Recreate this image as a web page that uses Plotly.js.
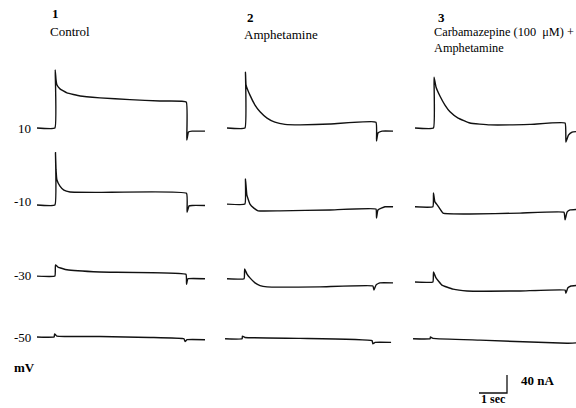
<!DOCTYPE html>
<html><head><meta charset="utf-8">
<script src="https://cdn.plot.ly/plotly-3.0.1.min.js"></script>
<style>html,body{margin:0;padding:0;background:#fff}</style>
</head><body><div id="chart" style="width:576px;height:408px"></div>
<script>
// ---- Data: time (s) from start of each sweep, current (nA) relative to row reference ----
const columnNumbers = ["1", "2", "3"];
const columnLabels = ["Control", "Amphetamine", "Carbamazepine (100  \u03bcM) +<br>Amphetamine"];
const holdingLabels = ["10", "-10", "-30", "-50"];
const unitLabel = "mV";
const scaleTime = [0, 1, 1];      // s
const scaleCurrent = [0, 0, 40];  // nA
const scaleLabels = ["40 nA", "1 sec"];

// Row 1: step from 10 mV
const timeR1C1 = [0, 0.64, 0.65, 0.68, 0.71, 0.82, 1.07, 1.54, 2.25, 3.32, 4.39, 5.33, 5.35, 5.41, 5.54, 6.0];
const currentR1C1 = [0, 0, 129, 107, 96, 87, 78, 71, 67, 63, 60, 58, -27, -9, -7, -7];
const timeR1C2 = [0, 0.64, 0.66, 0.68, 0.82, 1.0, 1.18, 1.43, 1.71, 2.07, 2.61, 3.68, 5.32, 5.34, 5.39, 5.54, 5.93];
const currentR1C2 = [0, 0, 124, 96, 73, 51, 36, 22, 13, 8, 7, 9, 13, -29, -11, -7, -7];
const timeR1C3 = [0, 0.66, 0.68, 0.75, 0.89, 1.07, 1.25, 1.54, 1.96, 2.68, 4.11, 5.36, 5.39, 5.48, 5.61, 5.75];
const currentR1C3 = [0, 0, 113, 91, 71, 51, 36, 22, 11, 7, 8, 11, -31, -16, -9, -8];

// Row 2: step from -10 mV
const timeR2C1 = [0, 0.64, 0.66, 0.68, 0.71, 0.82, 0.96, 1.18, 2.25, 5.34, 5.36, 5.43, 5.54, 6.0];
const currentR2C1 = [0, 0, 116, 78, 56, 42, 33, 29, 28, 26, -16, -2, -1, -1];
const timeR2C2 = [0, 0.64, 0.66, 0.71, 0.82, 0.96, 1.11, 1.89, 3.68, 5.32, 5.34, 5.39, 5.64, 5.93];
const currentR2C2 = [2, 2, 58, 22, 2, -7, -13, -13, -11, -9, -29, -11, -4, -4];
const timeR2C3 = [0, 0.64, 0.66, 0.71, 0.82, 1.0, 1.96, 3.75, 5.32, 5.36, 5.43, 5.54, 5.75];
const currentR2C3 = [-4, -4, 27, 7, -2, -18, -20, -18, -16, -33, -16, -11, -10];

// Row 3: step from -30 mV
const timeR3C1 = [0, 0.64, 0.66, 0.75, 1.07, 2.25, 5.32, 5.34, 5.39, 6.0];
const currentR3C1 = [2, 2, 27, 22, 16, 11, 6, -16, -4, -4];
const timeR3C2 = [0, 0.61, 0.63, 0.71, 0.82, 1.0, 1.18, 1.43, 3.32, 5.21, 5.25, 5.32, 5.46, 5.93];
const currentR3C2 = [-4, -4, 18, 7, -2, -13, -19, -22, -22, -20, -29, -18, -13, -13];
const timeR3C3 = [0, 0.64, 0.66, 0.75, 0.96, 1.36, 1.86, 3.75, 5.36, 5.39, 5.46, 5.57, 5.75];
const currentR3C3 = [-11, -11, 11, -2, -18, -27, -31, -31, -29, -36, -24, -20, -19];

// Row 4: step from -50 mV
const timeR4C1 = [0, 0.61, 0.63, 0.71, 2.25, 4.04, 5.25, 5.29, 5.36, 6.0];
const currentR4C1 = [0, 0, 7, 2, 1, -1, -4, -10, -6, -6];
const timeR4C2 = [-0.07, 0.54, 0.55, 0.64, 2.61, 5.18, 5.21, 5.29, 5.86];
const currentR4C2 = [-4, -4, 2, -1, -3, -8, -15, -12, -12];
const timeR4C3 = [-0.07, 0.54, 0.55, 0.64, 2.32, 5.43, 5.75];
const currentR4C3 = [-4, -4, 0, -3, -7, -14, -13];

const sweeps = [
  [[timeR1C1, currentR1C1], [timeR1C2, currentR1C2], [timeR1C3, currentR1C3]],
  [[timeR2C1, currentR2C1], [timeR2C2, currentR2C2], [timeR2C3, currentR2C3]],
  [[timeR3C1, currentR3C1], [timeR3C2, currentR3C2], [timeR3C3, currentR3C3]],
  [[timeR4C1, currentR4C1], [timeR4C2, currentR4C2], [timeR4C3, currentR4C3]]
];

// ---- Layout geometry (pixels) ----
const W = 576, H = 408;
const PX_PER_S = 28;        // 1 sec scale bar
const PX_PER_NA = 18 / 40;  // 40 nA scale bar
const colStart = [37, 227, 415];
const colEnd = [6.3, 6.3, 5.75];
const rowRef = [128, 205, 277, 337];
const T0 = -0.1, IMAX = 135, IMIN = -45;

const layout = {
  width: W, height: H,
  margin: {l: 0, r: 0, t: 0, b: 0},
  paper_bgcolor: '#ffffff',
  plot_bgcolor: 'rgba(0,0,0,0)',
  showlegend: false,
  font: {family: 'Liberation Serif, Times New Roman, serif', color: '#000', size: 13},
  annotations: []
};
function axBase() {
  return {visible: false, showgrid: false, zeroline: false, fixedrange: true};
}
const xName = i => 'xaxis' + (i ? i + 1 : '');
const yName = i => 'yaxis' + (i ? i + 1 : '');
const xRef = i => 'x' + (i ? i + 1 : '');
const yRef = i => 'y' + (i ? i + 1 : '');

for (let c = 0; c < 3; c++) {
  const left = colStart[c] + T0 * PX_PER_S;
  const right = Math.min(W, colStart[c] + colEnd[c] * PX_PER_S);
  layout[xName(c)] = Object.assign(axBase(), {
    domain: [left / W, right / W],
    range: [T0, (right - colStart[c]) / PX_PER_S],
    anchor: yRef(0)
  });
}
for (let r = 0; r < 4; r++) {
  const top = rowRef[r] - IMAX * PX_PER_NA;
  const bot = rowRef[r] - IMIN * PX_PER_NA;
  layout[yName(r)] = Object.assign(axBase(), {
    domain: [1 - bot / H, 1 - top / H],
    range: [IMIN, IMAX],
    anchor: xRef(0)
  });
}
// scale bar axes
const sbOrigin = [479, 393];
layout[xName(3)] = Object.assign(axBase(), {
  domain: [(sbOrigin[0] - 5) / W, (sbOrigin[0] + 40) / W],
  range: [-5 / PX_PER_S, 40 / PX_PER_S], anchor: yRef(4)
});
layout[yName(4)] = Object.assign(axBase(), {
  domain: [1 - (sbOrigin[1] + 5) / H, 1 - (sbOrigin[1] - 25) / H],
  range: [-5 / PX_PER_NA, 25 / PX_PER_NA], anchor: xRef(3)
});

const traces = [];
for (let r = 0; r < 4; r++) {
  for (let c = 0; c < 3; c++) {
    const [t, i] = sweeps[r][c];
    traces.push({
      type: 'scatter', mode: 'lines', x: t, y: i,
      xaxis: xRef(c), yaxis: yRef(r),
      line: {color: '#111', width: 1.4, shape: 'spline', smoothing: 0.3},
      hoverinfo: 'skip', cliponaxis: true
    });
  }
}
traces.push({
  type: 'scatter', mode: 'lines', x: scaleTime, y: scaleCurrent,
  xaxis: xRef(3), yaxis: yRef(4),
  line: {color: '#111', width: 1.3}, hoverinfo: 'skip'
});

function ann(text, px, py, opts) {
  layout.annotations.push(Object.assign({
    text: text, x: px / W, y: 1 - py / H, xref: 'paper', yref: 'paper',
    showarrow: false, xanchor: 'left', yanchor: 'middle',
    font: {size: 13, color: '#000'}
  }, opts || {}));
}
// column headers
const numPos = [[55, 13], [250, 18], [441, 18]];
const labPos = [[48, 32], [242, 34], [432, 40]];
const labSize = [13, 13, 12.3];
for (let c = 0; c < 3; c++) {
  ann('<b>' + columnNumbers[c] + '</b>', numPos[c][0], numPos[c][1], {xanchor: 'center'});
  ann(columnLabels[c], labPos[c][0], labPos[c][1], {align: 'left', font: {size: labSize[c], color: '#000'}});
}
// holding potentials
const holdY = [128, 201, 275, 337];
for (let r = 0; r < 4; r++) {
  ann(holdingLabels[r], 33, holdY[r], {xanchor: 'right'});
}
ann('<b>' + unitLabel + '</b>', 12, 367);
// scale bar labels
ann('<b>' + scaleLabels[0] + '</b>', 519, 380);
ann('<b>' + scaleLabels[1] + '</b>', 493, 408, {xanchor: 'center', yanchor: 'bottom', font: {size: 12, color: '#000'}});

Plotly.newPlot('chart', traces, layout, {displayModeBar: false, staticPlot: true});
</script>
</body></html>
